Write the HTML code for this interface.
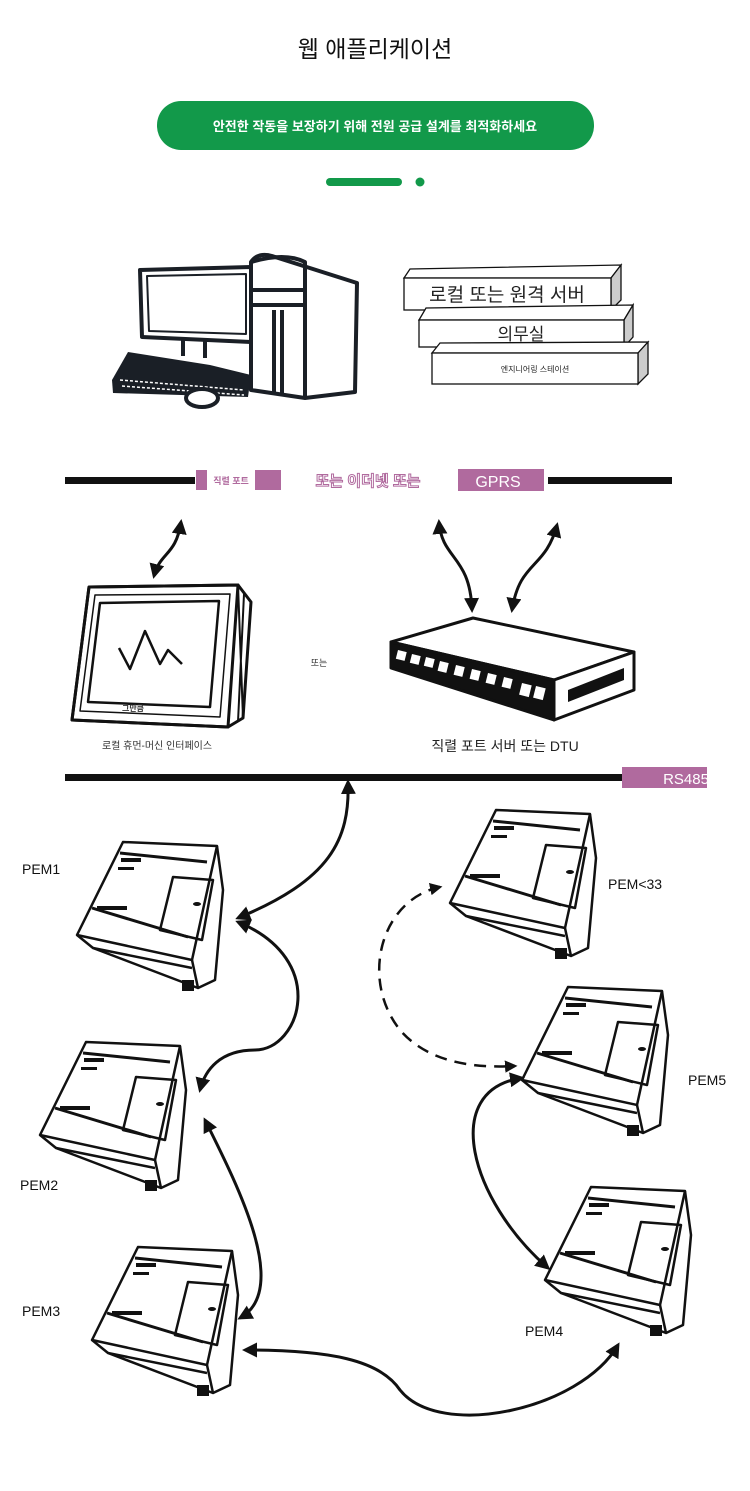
<!DOCTYPE html>
<html><head><meta charset="utf-8"><style>
html,body{margin:0;padding:0;background:#fff;}
svg{display:block;}
text{font-family:"Liberation Sans","Noto Sans CJK KR",sans-serif;}
</style></head><body>
<svg width="750" height="1491" viewBox="0 0 750 1491" xmlns="http://www.w3.org/2000/svg">
<defs>
<marker id="ah" viewBox="0 0 10 10" refX="8" refY="5" markerWidth="5" markerHeight="5" orient="auto-start-reverse">
<path d="M0,0 L10,5 L0,10 z" fill="#111"/></marker>
<g id="dev" fill="none" stroke="#111" stroke-width="2.5" stroke-linejoin="round">
<path d="M46,2 L140,6 L146,50 L138,140 L121,148 L16,108 L0,95 Z" fill="#fff"/>
<path d="M140,6 L115,120 L0,95"/>
<path d="M115,120 L121,148"/>
<path d="M16,108 L115,128"/>
<path d="M43,13 L130,22" stroke-width="3"/>
<path d="M15,68 L111,97" stroke-width="3"/>
<path d="M96,37 L136,40 L125,100 L83,90 Z"/>
<rect x="44" y="18" width="20" height="4" fill="#111" stroke="none"/>
<rect x="41" y="27" width="16" height="3" fill="#111" stroke="none"/>
<rect x="20" y="66" width="30" height="4" fill="#111" stroke="none"/>
<ellipse cx="120" cy="64" rx="4" ry="2" fill="#111" stroke="none"/>
<rect x="105" y="140" width="12" height="11" fill="#111" stroke="none"/>
</g>
</defs>

<text x="375" y="57" font-size="23" text-anchor="middle" fill="#111">웹 애플리케이션</text>
<rect x="157" y="101" width="437" height="49" rx="24" fill="#12994a"/>
<text x="375" y="131" font-size="13" font-weight="bold" text-anchor="middle" fill="#fff">안전한 작동을 보장하기 위해 전원 공급 설계를 최적화하세요</text>
<rect x="326" y="178" width="76" height="8" rx="4" fill="#12994a"/>
<circle cx="420" cy="182" r="4.5" fill="#12994a"/>

<!-- computer -->
<g fill="none" stroke="#1a1f26" stroke-width="4" stroke-linejoin="round">
<path d="M140,270 L251,267 L251,342 L142,337 Z"/>
<path d="M147,276 L246,274 L246,334 L149,331 Z" stroke-width="2"/>
<path d="M183,338 L183,356 M205,340 L205,358"/>
<path d="M251,262 Q258,252 272,256 L357,283 L355,392 L305,398 L251,390 Z" fill="#fff"/>
<path d="M251,262 Q285,252 305,262 L305,398"/>
<path d="M251,290 L305,290 M251,305 L305,305 M274,310 L274,395 M282,310 L282,395"/>
</g>
<path d="M112,380 L128,352 L210,365 L251,375 L248,397 L113,393 Z" fill="#1a1f26"/>
<path d="M120,380 L244,390 M122,386 L244,395" stroke="#fff" stroke-width="1.5" stroke-dasharray="3,2"/>
<ellipse cx="202" cy="398" rx="16" ry="9" fill="#fff" stroke="#1a1f26" stroke-width="4"/>

<!-- server stack -->
<g stroke="#111" stroke-width="1.3">
<path d="M404,278 L410,269 L621,265 L611,278 Z" fill="#fff"/>
<path d="M611,278 L621,265 L621,300 L611,310 Z" fill="#ccc"/>
<rect x="404" y="278" width="207" height="32" fill="#fff"/>
<path d="M419,320 L426,308 L633,305 L624,320 Z" fill="#fff"/>
<path d="M624,320 L633,305 L633,337 L624,347 Z" fill="#ccc"/>
<rect x="419" y="320" width="205" height="27" fill="#fff"/>
<path d="M432,353 L440,343 L648,342 L638,353 Z" fill="#fff"/>
<path d="M638,353 L648,342 L648,374 L638,384 Z" fill="#ccc"/>
<rect x="432" y="353" width="206" height="31" fill="#fff"/>
</g>
<text x="507" y="301" font-size="19" text-anchor="middle" fill="#222">로컬 또는 원격 서버</text>
<text x="521" y="340" font-size="17" text-anchor="middle" fill="#222">의무실</text>
<text x="535" y="372" font-size="8" text-anchor="middle" fill="#222">엔지니어링 스테이션</text>

<!-- network bar -->
<rect x="65" y="477" width="130" height="7" fill="#111"/>
<rect x="548" y="477" width="124" height="7" fill="#111"/>
<rect x="196" y="470" width="11" height="20" fill="#b06a9e"/>
<rect x="255" y="470" width="26" height="20" fill="#b06a9e"/>
<text x="231" y="484" font-size="9" font-weight="bold" text-anchor="middle" fill="#b06a9e">직렬 포트</text>
<text x="368" y="486" font-size="15" font-weight="bold" text-anchor="middle" fill="#fff" stroke="#b06a9e" stroke-width="1">또는 이더넷 또는</text>
<rect x="458" y="469" width="86" height="22" fill="#b06a9e"/>
<text x="498" y="487" font-size="16" text-anchor="middle" fill="#fff">GPRS</text>

<g fill="none" stroke="#111" stroke-width="3" marker-start="url(#ah)" marker-end="url(#ah)">
<path d="M154,576 C160,552 176,556 181,522"/>
<path d="M439,522 C442,560 470,555 472,610"/>
<path d="M512,610 C520,560 545,570 557,525"/>
</g>

<!-- HMI -->
<g fill="none" stroke="#111" stroke-width="3" stroke-linejoin="round">
<path d="M89,587 L238,585 L251,602 L243,718 L228,727 L72,720 Z" fill="#fff"/>
<path d="M89,587 L238,585 L228,727 L72,720 Z"/>
<path d="M238,585 L243,718 M244,594 L238,722" stroke-width="2"/>
<path d="M95,595 L230,594 L220,717 L80,711 Z" stroke-width="1.5"/>
<path d="M100,603 L219,601 L210,707 L88,702 Z" stroke-width="2.5"/>
<path d="M119,648 L130,669 L145,631 L160,664 L168,650 L182,664" stroke-width="2.5"/>
</g>
<text x="133" y="711" font-size="8" font-weight="bold" text-anchor="middle" fill="#333">그만큼</text>
<text x="157" y="749" font-size="10" text-anchor="middle" fill="#333">로컬 휴먼-머신 인터페이스</text>
<text x="319" y="666" font-size="9" text-anchor="middle" fill="#333">또는</text>

<!-- switch -->
<g stroke="#111" stroke-width="3" stroke-linejoin="round">
<path d="M391,642 L473,618 L634,652 L554,680 Z" fill="#fff"/>
<path d="M554,680 L634,652 L634,690 L554,720 Z" fill="#fff"/>
<path d="M391,642 L554,680 L554,720 L391,668 Z" fill="#111"/>
</g>
<g fill="#fff">
<rect x="398" y="650" width="9" height="9" transform="rotate(14 398 650)"/>
<rect x="412" y="654" width="9" height="9" transform="rotate(14 412 654)"/>
<rect x="426" y="657" width="9" height="9" transform="rotate(14 426 657)"/>
<rect x="440" y="661" width="9" height="10" transform="rotate(14 440 661)"/>
<rect x="456" y="665" width="9" height="10" transform="rotate(14 456 665)"/>
<rect x="472" y="669" width="9" height="10" transform="rotate(14 472 669)"/>
<rect x="488" y="673" width="9" height="10" transform="rotate(14 488 673)"/>
<rect x="504" y="677" width="9" height="10" transform="rotate(14 504 677)"/>
<rect x="522" y="683" width="10" height="12" transform="rotate(14 522 683)"/>
<rect x="536" y="686" width="10" height="12" transform="rotate(14 536 686)"/>
</g>
<path d="M568,690 L624,668 L624,680 L568,702 Z" fill="#111"/>
<text x="505" y="751" font-size="14" text-anchor="middle" fill="#222">직렬 포트 서버 또는 DTU</text>

<!-- RS485 bar -->
<rect x="65" y="774" width="565" height="7" fill="#111"/>
<rect x="622" y="767" width="85" height="21" fill="#b06a9e"/>
<text x="686" y="784" font-size="15" text-anchor="middle" fill="#fff">RS485</text>

<!-- devices -->
<use href="#dev" x="77" y="840"/>
<use href="#dev" x="40" y="1040"/>
<use href="#dev" x="92" y="1245"/>
<use href="#dev" x="450" y="808"/>
<use href="#dev" x="522" y="985"/>
<use href="#dev" x="545" y="1185"/>

<g font-size="14" fill="#111">
<text x="22" y="874">PEM1</text>
<text x="20" y="1190">PEM2</text>
<text x="22" y="1316">PEM3</text>
<text x="608" y="889">PEM&lt;33</text>
<text x="688" y="1085">PEM5</text>
<text x="525" y="1336">PEM4</text>
</g>

<g fill="none" stroke="#111" stroke-width="3" marker-start="url(#ah)" marker-end="url(#ah)">
<path d="M238,918 C330,880 350,840 348,782"/>
<path d="M238,922 C330,960 300,1050 255,1050 C220,1050 205,1070 200,1090"/>
<path d="M205,1120 C240,1190 290,1290 240,1318"/>
<path d="M245,1350 C330,1350 380,1360 400,1390 C440,1440 580,1410 618,1345"/>
<path d="M522,1078 C440,1090 470,1200 548,1268"/>
</g>
<path d="M440,887 C380,900 360,980 400,1030 C430,1065 480,1068 515,1066" fill="none" stroke="#111" stroke-width="2.5" stroke-dasharray="12,8" marker-start="url(#ah)" marker-end="url(#ah)"/>
</svg>
</body></html>
